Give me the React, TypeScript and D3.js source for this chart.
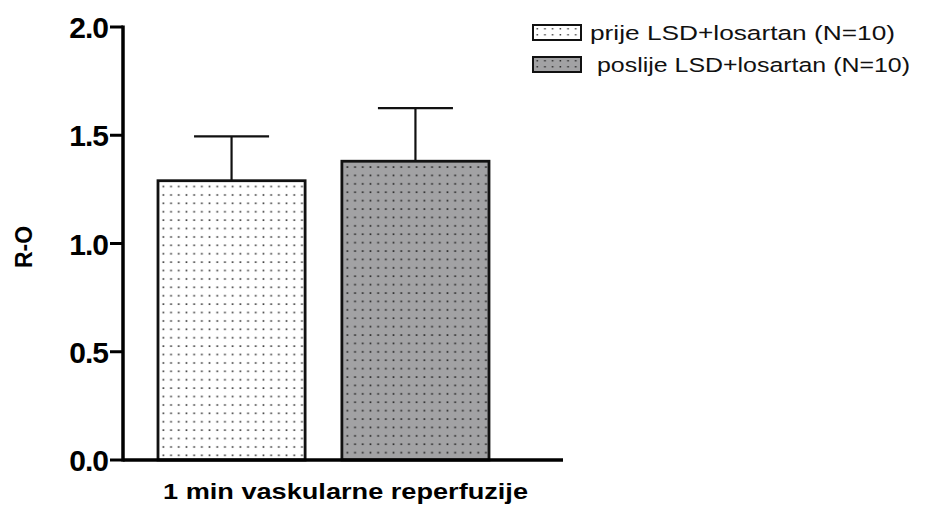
import React from "react";
import * as d3 from "d3";

// chart values
const groupLabel = "1 min vaskularne reperfuzije";
const seriesNames = ["prije LSD+losartan (N=10)", "poslije LSD+losartan (N=10)"];
const seriesKeys = ["prije", "poslije"];
const means = [1.29, 1.38];
const sems = [0.205, 0.245];
const yTicks = [0, 0.5, 1.0, 1.5, 2.0];
const yLabel = "R-O";

const W = 928;
const H = 506;
const FONT = "Arial, 'Liberation Sans', Helvetica, sans-serif";

export default function App() {
  const y = d3.scaleLinear().domain([0, 2]).range([460, 27]);
  const x = d3
    .scaleBand<string>()
    .domain(seriesKeys)
    .range([158, 489])
    .paddingInner(0.2)
    .paddingOuter(0);

  const axisX = 123;
  const axisEnd = 563;
  const fills = ["url(#dotsWhite)", "url(#dotsGray)"];

  return (
    <div style={{ position: "absolute", left: 0, top: 0 }}>
      <svg width={W} height={H} style={{ display: "block", background: "#fff" }}>
        <defs>
          <pattern id="dotsWhite" width={7.7} height={8.4} patternUnits="userSpaceOnUse" x={160} y={y(means[0]) + 2}>
            <rect width={7.7} height={8.4} fill="#fff" />
            <rect x={2.5} y={3} width={1.7} height={1.7} fill="#444" />
          </pattern>
          <pattern id="dotsGray" width={7.7} height={8.4} patternUnits="userSpaceOnUse" x={344} y={y(means[1]) + 2}>
            <rect width={7.7} height={8.4} fill="#a2a2a4" />
            <rect x={2.5} y={3} width={1.7} height={1.7} fill="#2a2a2a" />
          </pattern>
          <pattern id="legWhite" width={7.7} height={6} patternUnits="userSpaceOnUse" x={534} y={26}>
            <rect width={7.7} height={6} fill="#fff" />
            <rect x={2.5} y={2} width={1.5} height={1.5} fill="#444" />
          </pattern>
          <pattern id="legGray" width={7.7} height={6} patternUnits="userSpaceOnUse" x={534} y={58}>
            <rect width={7.7} height={6} fill="#a2a2a4" />
            <rect x={2.5} y={2} width={1.5} height={1.5} fill="#2a2a2a" />
          </pattern>
        </defs>

        {/* bars */}
        {seriesKeys.map((k, i) => {
          const x0 = x(k)!;
          const bw = x.bandwidth();
          const cx = x0 + bw / 2;
          const top = y(means[i]);
          const errTop = y(means[i] + sems[i]);
          const cap = bw * 0.255;
          return (
            <g key={k}>
              <line x1={cx} x2={cx} y1={top} y2={errTop} stroke="#111" strokeWidth={2.2} />
              <line x1={cx - cap} x2={cx + cap} y1={errTop} y2={errTop} stroke="#111" strokeWidth={2.2} />
              <rect x={x0} y={top} width={bw} height={y(0) - top} fill={fills[i]} stroke="#111" strokeWidth={2.8} />
            </g>
          );
        })}

        {/* y axis */}
        <line x1={axisX} x2={axisX} y1={y(2) - 1.5} y2={y(0) + 1.5} stroke="#000" strokeWidth={3.5} />
        {yTicks.map((t) => (
          <g key={t}>
            <line x1={axisX - 13} x2={axisX} y1={y(t)} y2={y(t)} stroke="#000" strokeWidth={3} />
            <text
              x={axisX - 15}
              y={y(t)}
              dy="0.37em"
              textAnchor="end"
              fontFamily={FONT}
              fontWeight="bold"
              fontSize={30}
              letterSpacing={-1}
              fill="#000"
            >
              {d3.format(".1f")(t)}
            </text>
          </g>
        ))}

        {/* x axis */}
        <line x1={axisX} x2={axisEnd} y1={y(0)} y2={y(0)} stroke="#000" strokeWidth={3.5} />
        <text
          x={163}
          y={499}
          textLength={365}
          lengthAdjust="spacingAndGlyphs"
          fontFamily={FONT}
          fontWeight="bold"
          fontSize={22}
          fill="#000"
        >
          {groupLabel}
        </text>

        {/* y label */}
        <text
          transform={`translate(32, 247) rotate(-90)`}
          textAnchor="middle"
          fontFamily={FONT}
          fontWeight="bold"
          fontSize={23}
          fill="#000"
        >
          {yLabel}
        </text>

        {/* legend */}
        {seriesNames.map((name, i) => {
          const top = 25 + i * 32;
          return (
            <g key={name}>
              <rect
                x={533}
                y={top}
                width={48}
                height={15}
                fill={i === 0 ? "url(#legWhite)" : "url(#legGray)"}
                stroke="#111"
                strokeWidth={2}
              />
              <text
                x={i === 0 ? 590 : 597}
                y={top + 15}
                textLength={i === 0 ? 305 : 313}
                lengthAdjust="spacingAndGlyphs"
                fontFamily={FONT}
                fontSize={20.5}
                fill="#111"
              >
                {name}
              </text>
            </g>
          );
        })}
      </svg>
    </div>
  );
}
